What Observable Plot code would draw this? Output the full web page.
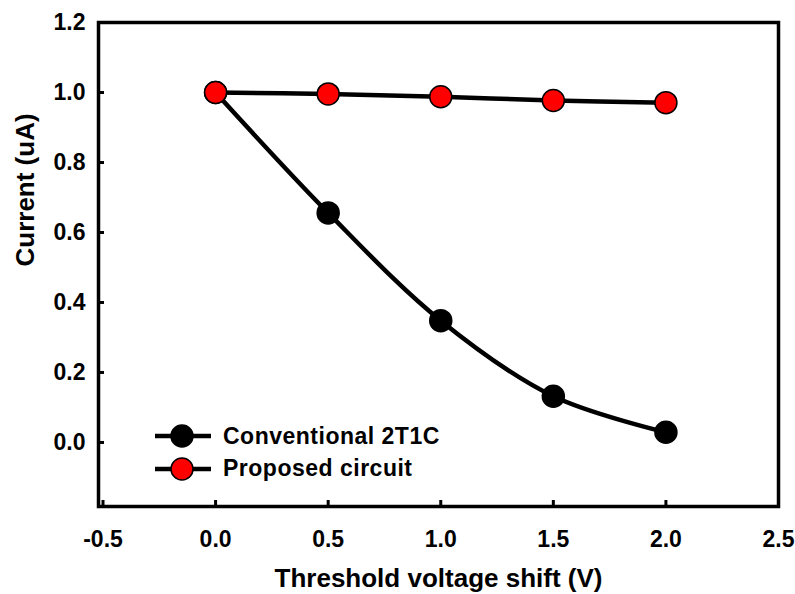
<!DOCTYPE html>
<html>
<head>
<meta charset="utf-8">
<script src="https://cdn.jsdelivr.net/npm/d3@7"></script>
<script src="https://cdn.jsdelivr.net/npm/@observablehq/plot@0.6"></script>
<style>
  html, body { margin: 0; padding: 0; background: #fff; }
  #chart { position: relative; width: 795px; height: 594px; font-family: "Liberation Sans", Arial, sans-serif; }
  #legend { position: absolute; left: 155px; top: 420px; font-weight: bold; font-size: 23px; letter-spacing: 0.5px; color: #000; }
  #legend .row { display: flex; align-items: center; height: 32.5px; }
  #legend svg { margin-right: 12px; }
</style>
</head>
<body>
<div id="chart"></div>
<script>
// Threshold voltage shift (V)
const shifts = [0.0, 0.5, 1.0, 1.5, 2.0];
// Output current (uA) for each circuit
const conventional = [1.0, 0.656, 0.348, 0.132, 0.029];
const proposed = [1.0, 0.996, 0.988, 0.977, 0.971];

const seriesNames = ["Conventional 2T1C", "Proposed circuit"];
const seriesFill = ["#000000", "#ff0000"];

const xTicks = [-0.5, 0.0, 0.5, 1.0, 1.5, 2.0, 2.5];
const yTicks = [0.0, 0.2, 0.4, 0.6, 0.8, 1.0, 1.2];

const rows = [
  ...shifts.map((x, i) => ({x, y: conventional[i], s: seriesNames[0]})),
  ...shifts.map((x, i) => ({x, y: proposed[i], s: seriesNames[1]}))
];

const W = 795, H = 594;
const mL = 98, mR = 17, mT = 22, mB = 88;
const innerW = W - mL - mR, innerH = H - mT - mB;

// one decimal, plain hyphen for negatives
const fmt = d => d3.format(".1f")(d).replace("\u2212", "-");

const chart = Plot.plot({
  width: W,
  height: H,
  marginLeft: mL,
  marginRight: mR,
  marginTop: mT,
  marginBottom: mB,
  style: {fontFamily: "'Liberation Sans', Arial, sans-serif", fontWeight: "bold", background: "#fff"},
  x: {domain: [-0.52, 2.5]},
  y: {domain: [-0.183, 1.2]},
  color: {domain: seriesNames, range: seriesFill},
  marks: [
    // inward tick marks on bottom and left axes
    Plot.tickX(xTicks, {x: d => d, insetTop: innerH - 6, stroke: "#000", strokeWidth: 3}),
    Plot.tickY(yTicks, {y: d => d, insetRight: innerW - 6, stroke: "#000", strokeWidth: 3}),
    Plot.axisX({ticks: xTicks, tickSize: 0, tickPadding: 24, tickFormat: fmt, fontSize: 23, label: null}),
    Plot.axisY({ticks: yTicks, tickSize: 0, tickPadding: 13, tickFormat: fmt, fontSize: 23, label: null}),
    Plot.frame({stroke: "#000", strokeWidth: 3.5}),
    Plot.line(rows, {x: "x", y: "y", z: "s", stroke: "#000", strokeWidth: 4.5, curve: "catmull-rom"}),
    Plot.dot(rows, {x: "x", y: "y", fill: "s", stroke: "#000", strokeWidth: 1.5, r: 11}),
    Plot.text(["Threshold voltage shift (V)"], {frameAnchor: "bottom", dy: 80, fontSize: 26, fontWeight: "bold", fill: "#000", text: d => d}),
    Plot.text(["Current (uA)"], {frameAnchor: "left", dx: -73, dy: 2, rotate: -90, fontSize: 26, fontWeight: "bold", fill: "#000", text: d => d, letterSpacing: "1.2px"})
  ]
});

const host = document.getElementById("chart");
host.appendChild(chart);

// legend inside the plot area, lower left
const legend = document.createElement("div");
legend.id = "legend";
seriesNames.forEach((name, i) => {
  const row = document.createElement("div");
  row.className = "row";
  row.innerHTML =
    `<svg width="56" height="26" viewBox="0 0 56 26">
       <line x1="0" y1="13" x2="56" y2="13" stroke="#000" stroke-width="4.5"/>
       <circle cx="27" cy="13" r="11" fill="${seriesFill[i]}" stroke="#000" stroke-width="1.5"/>
     </svg><span>${name}</span>`;
  legend.appendChild(row);
});
host.appendChild(legend);
</script>
</body>
</html>
